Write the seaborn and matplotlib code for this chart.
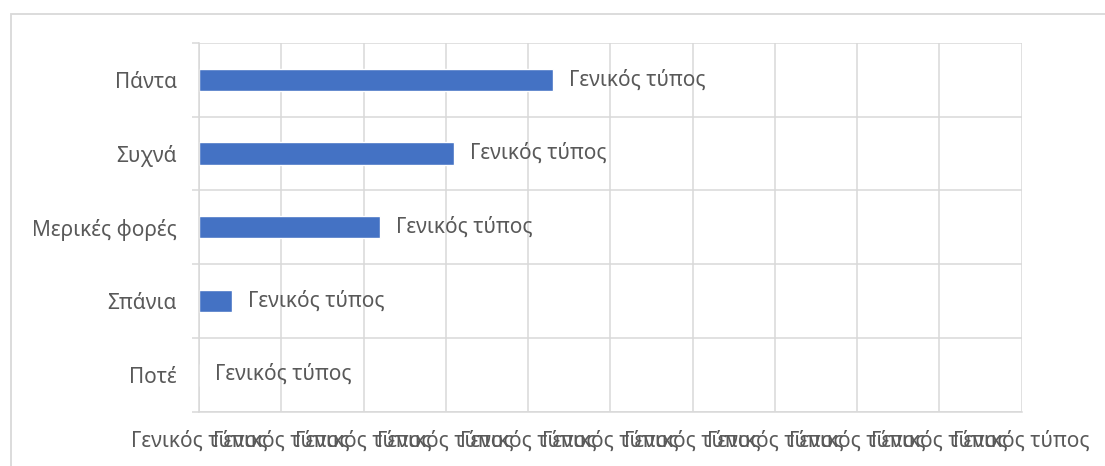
import matplotlib
matplotlib.use("Agg")
import matplotlib.pyplot as plt
import seaborn as sns
import pandas as pd
from matplotlib.patches import Rectangle

# Survey answer frequencies (percent of respondents)
categories = ["Πάντα", "Συχνά", "Μερικές φορές", "Σπάνια", "Ποτέ"]
values = [43, 31, 22, 4, 0]
label_text = "Γενικός τύπος"
x_ticks = list(range(0, 101, 10))

BAR = "#4472C4"
GRID = "#D9D9D9"
TEXT = "#595959"
FS = 15

sns.set_theme(style="white")
plt.rcParams["font.family"] = ["Noto Sans", "DejaVu Sans"]

df = pd.DataFrame({"category": categories, "value": values})

W, H = 1105, 466
fig = plt.figure(figsize=(W / 100, H / 100), dpi=100)
fig.patch.set_facecolor("white")

# outer chart frame
fig.add_artist(Rectangle((11 / W, -0.1), 1.2, 1 - 14 / H + 0.1,
                         transform=fig.transFigure, fill=False,
                         edgecolor=GRID, linewidth=1.3))

left, right = 199 / W, 1021.7 / W
top, bottom = 1 - 43 / H, 1 - 411.5 / H
ax = fig.add_axes([left, bottom, right - left, top - bottom])

sns.barplot(data=df, x="value", y="category", orient="h", color=BAR,
            width=0.3, ax=ax, saturation=1)

ax.set_xlim(0, 100)
ax.set_ylim(len(categories) - 0.5, -0.5)
ax.set_xlabel("")
ax.set_ylabel("")

# value axis: every tick carries the same label
ax.set_xticks(x_ticks)
ax.set_xticklabels([label_text] * len(x_ticks), fontsize=FS, color=TEXT)
ax.tick_params(axis="x", length=0, pad=14)

# category axis: labels centered, tick marks on the boundaries
ax.set_yticks(range(len(categories)))
ax.set_yticklabels(categories, fontsize=FS, color=TEXT)
ax.set_yticks([i - 0.5 for i in range(len(categories) + 1)], minor=True)
ax.tick_params(axis="y", which="major", length=0, pad=16)
ax.tick_params(axis="y", which="minor", length=5.2, width=1.1, color=GRID, left=True)

ax.grid(True, axis="x", color=GRID, linewidth=1.1)
ax.grid(True, axis="y", which="minor", color=GRID, linewidth=1.1)
ax.grid(False, axis="y", which="major")
ax.set_axisbelow(True)

for side in ["top", "right"]:
    ax.spines[side].set_visible(False)
for side in ["left", "bottom"]:
    ax.spines[side].set_color(GRID)
    ax.spines[side].set_linewidth(1.1)

# data labels beside each bar
for i, v in enumerate(values):
    ax.text(v + 2.0, i, label_text, va="center", ha="left",
            fontsize=FS, color=TEXT)

fig.savefig("out.png", dpi=100, facecolor="white")
